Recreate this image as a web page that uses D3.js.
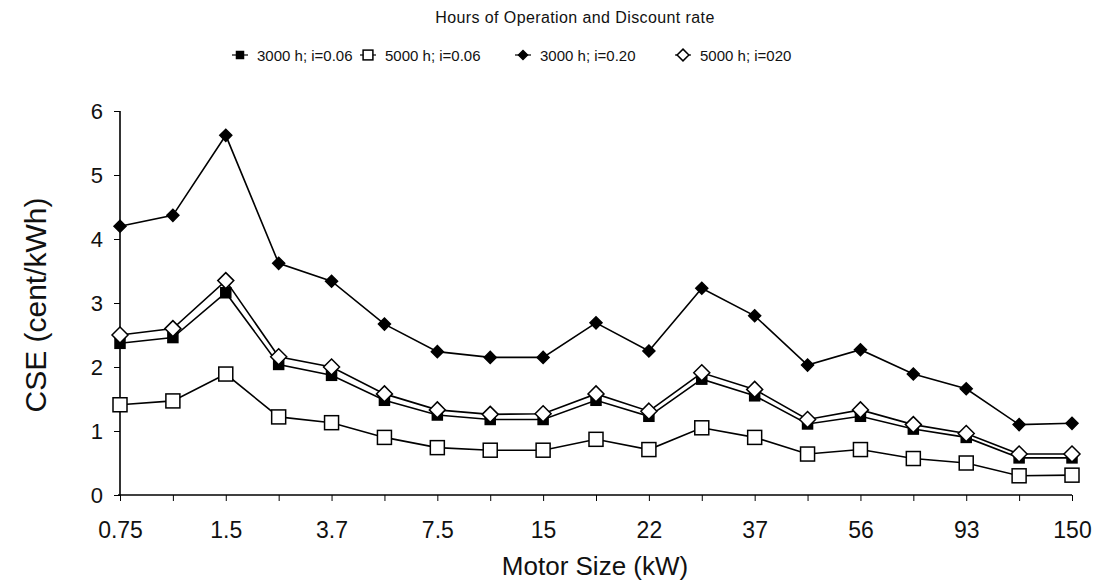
<!DOCTYPE html>
<html>
<head>
<meta charset="utf-8">
<script src="https://cdn.jsdelivr.net/npm/d3@7"></script>
<style>
  body { margin: 0; background: #fff; }
  text { font-family: "Liberation Sans", Arial, sans-serif; fill: #111; }
</style>
</head>
<body>
<div id="chart-container"></div>
<script>
const w = 1096;
const h = 586;

// motor sizes (kW), every other one is labelled
const motorSizes = ["0.75", "1.1", "1.5", "2.2", "3.7", "5.5", "7.5", "11", "15", "18.5",
                    "22", "30", "37", "45", "56", "75", "93", "110", "150"];

const cse3000_006 = [2.37, 2.46, 3.16, 2.04, 1.87, 1.48, 1.25, 1.18, 1.18, 1.48,
                     1.23, 1.81, 1.55, 1.11, 1.23, 1.03, 0.90, 0.58, 0.58];
const cse5000_006 = [1.41, 1.47, 1.89, 1.22, 1.13, 0.90, 0.74, 0.70, 0.70, 0.87,
                     0.71, 1.05, 0.90, 0.64, 0.71, 0.57, 0.50, 0.30, 0.31];
const cse3000_020 = [4.20, 4.37, 5.62, 3.62, 3.34, 2.67, 2.24, 2.15, 2.15, 2.69,
                     2.25, 3.23, 2.80, 2.03, 2.27, 1.89, 1.66, 1.10, 1.12];
const cse5000_020 = [2.50, 2.60, 3.35, 2.16, 2.00, 1.58, 1.33, 1.26, 1.27, 1.58,
                     1.31, 1.91, 1.65, 1.18, 1.33, 1.10, 0.96, 0.64, 0.64];

const yTicks = [0, 1, 2, 3, 4, 5, 6];

const series = [
    { name: "3000 h; i=0.06", values: cse3000_006, shape: "square", fill: "#000", size: 10 },
    { name: "5000 h; i=0.06", values: cse5000_006, shape: "square", fill: "#fff", size: 14 },
    { name: "3000 h; i=0.20", values: cse3000_020, shape: "diamond", fill: "#000", size: 10 },
    { name: "5000 h; i=020",  values: cse5000_020, shape: "diamond", fill: "#fff", size: 14 }
];

const svg = d3.select("#chart-container").append("svg").attr("width", w).attr("height", h);

const x = d3.scalePoint().domain(motorSizes).range([120, 1072]).padding(0);
const y = d3.scaleLinear().domain([0, 6]).range([495, 111]);

// axes
const xAxis = d3.axisBottom(x)
    .tickSize(6)
    .tickFormat((d, i) => i % 2 === 0 ? d : "");
const gx = svg.append("g").attr("transform", "translate(0," + y(0) + ")").call(xAxis);
gx.select(".domain").attr("d", "M" + (x(motorSizes[0]) - 2) + ",0H" + x(motorSizes[motorSizes.length - 1])).attr("stroke-width", 1.6);
gx.selectAll("text").attr("y", 43).attr("dy", 0).style("font-size", "23px");

const yAxis = d3.axisLeft(y).tickValues(yTicks).tickSize(6).tickFormat(d3.format("d"));
const gy = svg.append("g").attr("transform", "translate(" + x(motorSizes[0]) + ",0)").call(yAxis);
gy.select(".domain").attr("d", "M0," + y(6) + "V" + y(0)).attr("stroke-width", 1.6);
gy.selectAll("text").attr("x", -17).style("font-size", "22px");

// titles
svg.append("text").attr("x", 595).attr("y", 575).attr("text-anchor", "middle")
    .style("font-size", "26px").text("Motor Size (kW)");
svg.append("text").attr("transform", "translate(46,305) rotate(-90)").attr("text-anchor", "middle")
    .style("font-size", "30px").text("CSE (cent/kWh)");
svg.append("text").attr("x", 575).attr("y", 23).attr("text-anchor", "middle")
    .style("font-size", "16px").style("letter-spacing", "0.4px").text("Hours of Operation and Discount rate");

function marker(g, s) {
    if (s.shape === "square") {
        g.append("rect").attr("x", -s.size / 2).attr("y", -s.size / 2)
            .attr("width", s.size).attr("height", s.size)
            .attr("fill", s.fill).attr("stroke", "#000").attr("stroke-width", 1.5);
    } else {
        const r = s.size / 2 + 1;
        g.append("path").attr("d", "M0," + (-r) + "L" + r + ",0L0," + r + "L" + (-r) + ",0Z")
            .attr("fill", s.fill).attr("stroke", "#000").attr("stroke-width", 1.5);
    }
}

const line = d3.line().x((d, i) => x(motorSizes[i])).y(d => y(d));

series.forEach(s => {
    svg.append("path").datum(s.values)
        .attr("d", line).attr("fill", "none").attr("stroke", "#000").attr("stroke-width", 1.6);
});
series.forEach(s => {
    svg.append("g").selectAll("g").data(s.values).enter().append("g")
        .attr("transform", (d, i) => "translate(" + x(motorSizes[i]) + "," + y(d) + ")")
        .each(function() { marker(d3.select(this), s); });
});

// legend
const legendX = [240, 368, 523, 683];
const legend = svg.append("g").selectAll("g").data(series).enter().append("g")
    .attr("transform", (d, i) => "translate(" + legendX[i] + ",55)");
legend.append("line").attr("x1", -8).attr("x2", 8).attr("stroke", "#000").attr("stroke-width", 1.2);
legend.each(function(s) {
    marker(d3.select(this).append("g"), { shape: s.shape, fill: s.fill, size: s.size * 0.7 });
});
legend.append("text").attr("x", 17).attr("y", 6).style("font-size", "15px").text(d => d.name);
</script>
</body>
</html>
